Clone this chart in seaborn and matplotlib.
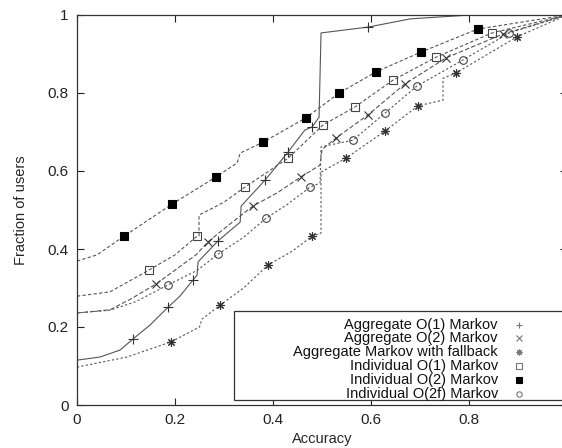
import matplotlib
matplotlib.use("Agg")
import matplotlib.pyplot as plt
import seaborn as sns
import pandas as pd
from matplotlib.patches import Rectangle

# ---------------- data ----------------
series_names = [
    "Aggregate O(1) Markov",
    "Aggregate O(2) Markov",
    "Aggregate Markov with fallback",
    "Individual O(1) Markov",
    "Individual O(2) Markov",
    "Individual O(2f) Markov",
]

agg1_x = [0, 0.047, 0.088, 0.114, 0.149, 0.186, 0.210, 0.237, 0.245, 0.247, 0.288, 0.333, 0.335,
          0.384, 0.431, 0.465, 0.480, 0.494, 0.498, 0.594, 0.680, 0.802, 1.0]
agg1_y = [0.115, 0.123, 0.141, 0.169, 0.205, 0.251, 0.279, 0.321, 0.333, 0.367, 0.421, 0.469, 0.510,
          0.577, 0.649, 0.705, 0.713, 0.738, 0.954, 0.969, 0.990, 1.0, 1.0]
agg1_mx = [0.114, 0.186, 0.237, 0.288, 0.384, 0.431, 0.480, 0.594]
agg1_my = [0.169, 0.251, 0.321, 0.421, 0.577, 0.649, 0.713, 0.969]

agg2_x = [0, 0.067, 0.110, 0.161, 0.210, 0.243, 0.267, 0.310, 0.359, 0.410, 0.457, 0.496, 0.500,
          0.529, 0.594, 0.669, 0.753, 0.869, 1.0]
agg2_y = [0.236, 0.244, 0.272, 0.310, 0.355, 0.385, 0.418, 0.462, 0.510, 0.545, 0.585, 0.615, 0.655,
          0.685, 0.744, 0.823, 0.890, 0.951, 1.0]
agg2_mx = [0.161, 0.267, 0.359, 0.457, 0.529, 0.594, 0.669, 0.753, 0.869]
agg2_my = [0.310, 0.418, 0.510, 0.585, 0.685, 0.744, 0.823, 0.890, 0.951]

fall_x = [0, 0.102, 0.192, 0.250, 0.255, 0.292, 0.340, 0.390, 0.440, 0.480, 0.498, 0.498,
          0.549, 0.629, 0.696, 0.747, 0.747, 0.773, 0.898, 1.0]
fall_y = [0.097, 0.123, 0.162, 0.200, 0.220, 0.256, 0.300, 0.359, 0.395, 0.433, 0.441, 0.597,
          0.633, 0.703, 0.767, 0.782, 0.838, 0.851, 0.944, 1.0]
fall_mx = [0.192, 0.292, 0.390, 0.480, 0.549, 0.629, 0.696, 0.773, 0.898]
fall_my = [0.162, 0.256, 0.359, 0.433, 0.633, 0.703, 0.767, 0.851, 0.944]

ind1_x = [0, 0.067, 0.147, 0.200, 0.245, 0.249, 0.249, 0.300, 0.343, 0.431, 0.502, 0.567,
          0.645, 0.733, 0.847, 1.0]
ind1_y = [0.279, 0.290, 0.346, 0.385, 0.433, 0.433, 0.487, 0.520, 0.559, 0.633, 0.718, 0.764,
          0.833, 0.892, 0.954, 1.0]
ind1_mx = [0.147, 0.245, 0.343, 0.431, 0.502, 0.567, 0.645, 0.733, 0.847]
ind1_my = [0.346, 0.433, 0.559, 0.633, 0.718, 0.764, 0.833, 0.892, 0.954]

ind2_x = [0, 0.041, 0.096, 0.194, 0.284, 0.327, 0.333, 0.380, 0.467, 0.535, 0.610, 0.702,
          0.818, 1.0]
ind2_y = [0.369, 0.385, 0.433, 0.515, 0.585, 0.621, 0.646, 0.674, 0.736, 0.800, 0.854, 0.905,
          0.964, 1.0]
ind2_mx = [0.096, 0.194, 0.284, 0.380, 0.467, 0.535, 0.610, 0.702, 0.818]
ind2_my = [0.433, 0.515, 0.585, 0.674, 0.736, 0.800, 0.854, 0.905, 0.964]

ind2f_x = [0, 0.067, 0.120, 0.186, 0.245, 0.288, 0.340, 0.386, 0.430, 0.476, 0.496, 0.498,
           0.563, 0.629, 0.694, 0.788, 0.882, 1.0]
ind2f_y = [0.236, 0.243, 0.265, 0.308, 0.345, 0.387, 0.430, 0.479, 0.515, 0.559, 0.569, 0.662,
           0.679, 0.749, 0.818, 0.885, 0.954, 1.0]
ind2f_mx = [0.186, 0.288, 0.386, 0.476, 0.563, 0.629, 0.694, 0.788, 0.882]
ind2f_my = [0.308, 0.387, 0.479, 0.559, 0.679, 0.749, 0.818, 0.885, 0.954]

x_ticks = [0, 0.2, 0.4, 0.6, 0.8]
x_tick_labels = ["0", "0.2", "0.4", "0.6", "0.8"]
y_ticks = [0, 0.2, 0.4, 0.6, 0.8, 1.0]
y_tick_labels = ["0", "0.2", "0.4", "0.6", "0.8", "1"]
x_label = "Accuracy"
y_label = "Fraction of users"

# ---------------- build table ----------------
lines = [(agg1_x, agg1_y), (agg2_x, agg2_y), (fall_x, fall_y),
         (ind1_x, ind1_y), (ind2_x, ind2_y), (ind2f_x, ind2f_y)]
marks = [(agg1_mx, agg1_my), (agg2_mx, agg2_my), (fall_mx, fall_my),
         (ind1_mx, ind1_my), (ind2_mx, ind2_my), (ind2f_mx, ind2f_my)]
rows = []
for name, (xs, ys) in zip(series_names, lines):
    for i, (xv, yv) in enumerate(zip(xs, ys)):
        rows.append({"series": name, "order": i, "x": xv, "y": yv})
df = pd.DataFrame(rows)

# ---------------- style ----------------
sns.set_style("ticks")
plt.rcParams["font.family"] = ["Liberation Sans", "DejaVu Sans"]
plt.rcParams["font.size"] = 10.5

line_color = "#555555"
dash_map = {
    series_names[0]: "",
    series_names[1]: (4, 2),
    series_names[2]: (2, 2),
    series_names[3]: (3, 2),
    series_names[4]: (3, 2),
    series_names[5]: (2, 2),
}
marker_styles = [
    dict(marker="+", ms=6.5, mew=0.8, mfc="none", mec="#333333"),
    dict(marker="x", ms=5.5, mew=0.8, mfc="none", mec="#333333"),
    dict(marker=(8, 2, 0), ms=6, mew=0.8, mfc="none", mec="#333333"),
    dict(marker="s", ms=5.5, mew=0.8, mfc="none", mec="#444444"),
    dict(marker="s", ms=5.5, mew=0.8, mfc="black", mec="black"),
    dict(marker="o", ms=5.5, mew=0.8, mfc="none", mec="#444444"),
]

fig = plt.figure(figsize=(5.62, 4.48), dpi=100)
ax = fig.add_axes([77 / 562, 43 / 448, 490 / 562, 390 / 448])

sns.lineplot(data=df, x="x", y="y", hue="series", style="series",
             palette=[line_color] * 6, dashes=dash_map, estimator=None, sort=False,
             units="series", linewidth=0.8, legend=False, ax=ax)

for (mx, my), st in zip(marks, marker_styles):
    ax.plot(mx, my, linestyle="none", **st)

ax.set_xlim(0, 1)
ax.set_ylim(0, 1)
ax.set_xticks(x_ticks)
ax.set_xticklabels(x_tick_labels)
ax.set_yticks(y_ticks)
ax.set_yticklabels(y_tick_labels)
ax.set_xlabel(x_label, fontsize=10.5, labelpad=3)
ax.set_ylabel(y_label, fontsize=10.5, labelpad=14)
ax.tick_params(direction="in", length=5, width=0.8, top=True, right=True,
               labelsize=11, colors="#222222", pad=6)
for sp in ax.spines.values():
    sp.set_color("#333333")
    sp.set_linewidth(0.9)
    sp.set_visible(True)

# ---------------- key (gnuplot-style) ----------------
ax.add_patch(Rectangle((0.32, 0.013), 0.68, 0.228, transform=ax.transAxes,
                       facecolor="white", edgecolor="#333333", linewidth=0.9, zorder=5))
row_y0 = 0.206
row_dy = 0.0354
for i, (name, st) in enumerate(zip(series_names, marker_styles)):
    yy = row_y0 - i * row_dy
    ax.text(0.859, yy, name, transform=ax.transAxes, ha="right", va="center",
            fontsize=10.5, color="#111111", zorder=6)
    st2 = dict(st)
    st2["ms"] = st["ms"] * 0.7
    st2["mec"] = "#777777" if st["mfc"] == "none" else "black"
    ax.plot([0.902], [yy], linestyle="none", transform=ax.transAxes, zorder=6,
            clip_on=False, **st2)

fig.savefig("out.png", dpi=100)
